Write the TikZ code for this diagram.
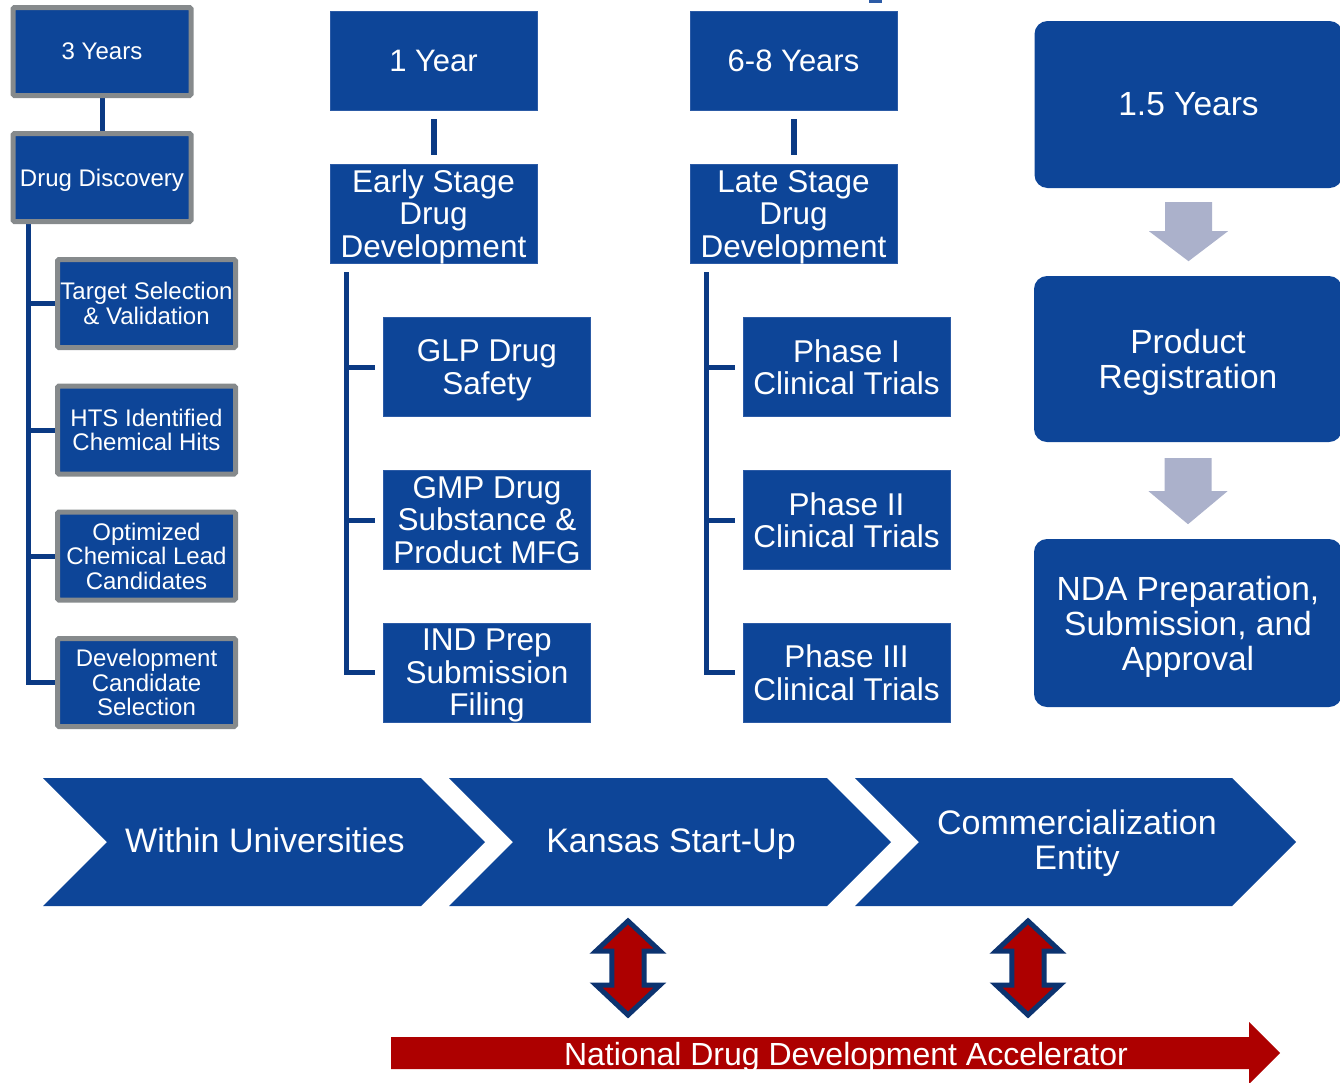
\documentclass[tikz,border=0pt]{standalone}
\usepackage{fontspec}
\setmainfont{Liberation Sans}
\usetikzlibrary{calc,backgrounds}
\definecolor{kblue}{HTML}{0D4598}
\definecolor{kedge}{HTML}{2C5BA6}
\definecolor{lineblue}{HTML}{0B3A84}
\definecolor{boxgray}{HTML}{868A8C}
\definecolor{arrgray}{HTML}{ABB1CB}
\definecolor{kred}{HTML}{AD0000}
\definecolor{arrblue}{HTML}{0C3370}
\newcommand\nod[1]{\raisebox{0pt}[\height][0pt]{#1}}
\begin{document}
\begin{tikzpicture}[x=1pt,y=-1pt,
  gbox/.style={draw=boxgray, line width=5pt, rounded corners=1.5pt, fill=kblue, text=white, inner sep=0pt, align=center, minimum width=178pt, minimum height=88pt, font=\fontsize{24}{24.5}\selectfont},
  pbox/.style={fill=kblue, draw=kedge, line width=0.8pt, text=white, inner sep=0pt, align=center, minimum width=207pt, minimum height=99pt, font=\fontsize{31.5}{32.5}\selectfont},
  rbox/.style={fill=kblue, rounded corners=13pt, text=white, inner sep=0pt, align=center, minimum width=308pt, minimum height=167pt, font=\fontsize{33.5}{35}\selectfont},
  tline/.style={draw=lineblue, line width=5pt},
  chev/.style={fill=kblue},
  ctext/.style={text=white, align=center, inner sep=0pt, font=\fontsize{34}{35}\selectfont},
  garrow/.style={fill=arrgray},
  darrow/.style={fill=kred, draw=arrblue, line width=5pt, line join=miter},
  dbl/.pic={\filldraw[darrow] (0,-47) -- (32,-17) -- (16.2,-17) -- (16.2,17) -- (32,17) -- (0,47) -- (-32,17) -- (-16.2,17) -- (-16.2,-17) -- (-32,-17) -- cycle;}
]
\useasboundingbox (0,0) rectangle (1340,1082);

% tiny cut-off mark at the top
\fill[kedge] (869,0) rectangle (882,3);

% ---- left column
\node[gbox] (y3) at (102,51.5) {3 Years};
\node[gbox] (dd) at (102,177.5) {\nod{Drug Discovery}};
\node[gbox] (t1) at (146.5,303.5) {Target Selection\\\& Validation};
\node[gbox] (t2) at (146.5,430) {HTS Identified\\Chemical Hits};
\node[gbox] (t3) at (146.5,556) {Optimized\\Chemical Lead\\Candidates};
\node[gbox] (t4) at (146.5,682.5) {Development\\Candidate\\Selection};

% ---- middle columns
\node[pbox, font=\fontsize{31}{32}\selectfont] (y1) at (433.5,60.5) {1 Year};
\node[pbox] (early) at (433.5,213.5) {Early Stage\\Drug\\\nod{Development}};
\node[pbox] (glp) at (487,367) {GLP Drug\\\nod{Safety}};
\node[pbox] (gmp) at (487,520) {GMP Drug\\Substance \&\\Product MFG};
\node[pbox] (ind) at (487,672.5) {IND Prep\\Submission\\\nod{Filing}};

\node[pbox, font=\fontsize{31}{32}\selectfont] (y68) at (793.5,60.5) {6-8 Years};
\node[pbox] (late) at (793.5,213.5) {Late Stage\\Drug\\\nod{Development}};
\node[pbox] (ph1) at (846.5,367) {Phase I\\Clinical Trials};
\node[pbox] (ph2) at (846.5,520) {Phase II\\Clinical Trials};
\node[pbox] (ph3) at (846.5,672.5) {Phase III\\Clinical Trials};

% ---- right column
\node[rbox] (b15) at (1188.5,104.5) {1.5 Years};
\node[rbox, minimum height=166pt] (pr) at (1188,359) {Product\\\nod{Registration}};
\node[rbox, minimum height=168pt] (nda) at (1188,623) {NDA Preparation,\\Submission, and\\\nod{Approval}};

% gray block arrows
\fill[garrow] ($(b15.south)+(-23.5,14)$) -- ++(47,0) -- ++(0,29) -- ++(16,0)
   -- ($(b15.south)+(0,73)$) -- ($(b15.south)+(-39.5,43)$) -- ++(16,0) -- cycle;
\fill[garrow] ($(pr.south)+(-23.5,16)$) -- ++(47,0) -- ++(0,33) -- ++(16,0)
   -- ($(pr.south)+(0,82)$) -- ($(pr.south)+(-39.5,49)$) -- ++(16,0) -- cycle;

% ---- connectors (behind boxes)
\begin{scope}[on background layer]
  \draw[tline] (y3.south) -- (dd.north);
  \coordinate (lt) at ([xshift=17.5pt]dd.south west);
  \draw[tline] (lt) |- (t4.west);
  \draw[tline] (lt |- t1.west) -- (t1.west);
  \draw[tline] (lt |- t2.west) -- (t2.west);
  \draw[tline] (lt |- t3.west) -- (t3.west);
\end{scope}

\draw[tline, line width=6pt] ([yshift=-9pt]y1.south) -- ([yshift=9pt]early.north);
\coordinate (m1) at ([xshift=17pt,yshift=-9pt]early.south west);
\draw[tline] (m1) |- ([xshift=-8pt]ind.west);
\draw[tline] (m1 |- glp.west) -- ([xshift=-8pt]glp.west);
\draw[tline] (m1 |- gmp.west) -- ([xshift=-8pt]gmp.west);

\draw[tline, line width=6pt] ([yshift=-9pt]y68.south) -- ([yshift=9pt]late.north);
\coordinate (m2) at ([xshift=17pt,yshift=-9pt]late.south west);
\draw[tline] (m2) |- ([xshift=-8pt]ph3.west);
\draw[tline] (m2 |- ph1.west) -- ([xshift=-8pt]ph1.west);
\draw[tline] (m2 |- ph2.west) -- ([xshift=-8pt]ph2.west);

% ---- chevrons
\fill[chev] (43,778) -- (421,778) -- (485,842) -- (421,906) -- (43,906) -- (107,842) -- cycle;
\fill[chev] (449,778) -- (827,778) -- (891,842) -- (827,906) -- (449,906) -- (513,842) -- cycle;
\fill[chev] (855,778) -- (1232,778) -- (1296,842) -- (1232,906) -- (855,906) -- (919,842) -- cycle;
\node[ctext, anchor=base] (c1) at (265,852) {Within Universities};
\node[ctext, anchor=base] (c2) at (671,852) {Kansas Start-Up};
\node[ctext] (c3) at (1077,840) {Commercialization\\\nod{Entity}};

% ---- double arrows
\pic at (628,968) {dbl};
\pic at (1028,968) {dbl};

% ---- red accelerator arrow
\fill[kred] (391,1037) -- (1249,1037) -- (1249,1022) -- (1280,1053) -- (1249,1084) -- (1249,1069) -- (391,1069) -- cycle;
\node[anchor=base, text=white, inner sep=0pt, font=\fontsize{32}{32}\selectfont] (acc) at (846,1065) {National Drug Development Accelerator};
\end{tikzpicture}
\end{document}
